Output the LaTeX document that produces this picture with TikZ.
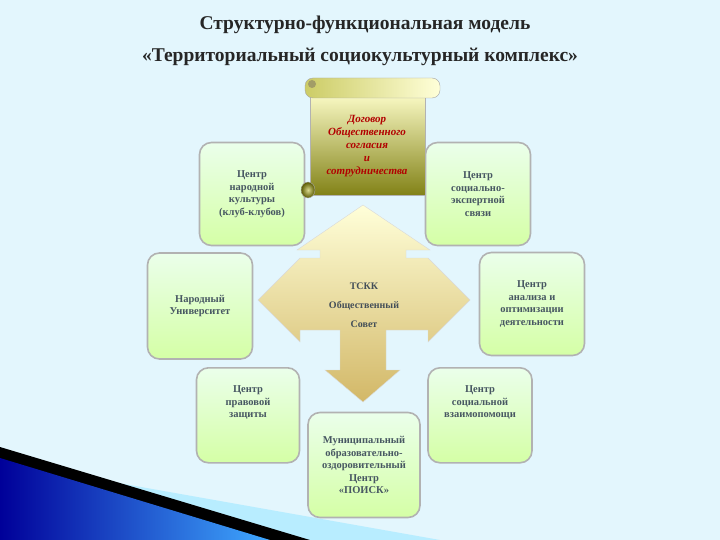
\documentclass[tikz,border=0pt]{standalone}
\usepackage{fontspec}
\setmainfont{Liberation Serif}
\begin{document}
\begin{tikzpicture}[x=1pt,y=-1pt,
 box/.style={draw=black!30,line width=1.6pt,rounded corners=12pt,top color=green!8!white,bottom color=green!30!lime!35!white,align=center,font=\bfseries\fontsize{10.5}{12.5}\selectfont,text=cyan!30!black,inner sep=2pt},
 ttl/.style={font=\bfseries\fontsize{19.5}{22}\selectfont,text=black!85}]
\useasboundingbox (0,0) rectangle (720,540);
\fill[cyan!11!white] (0,0) rectangle (720,540);
% corner decoration
\fill[blue!25!cyan!28!white] (0,462) -- (440,540) -- (0,540) -- cycle;
\fill[black] (0,447) -- (310,540) -- (0,540) -- cycle;
\shade[left color=blue!60!black,right color=blue!45!cyan!75!white] (0,458) -- (270,540) -- (0,540) -- cycle;
% title
\node[ttl] (t1) at (365,25) {Структурно-функциональная модель};
\node[ttl] (t2) at (360,57) {«Территориальный социокультурный комплекс»};
% boxes
\node[box,minimum width=105pt,minimum height=103pt] (b1) at (252,194) {Центр\\народной\\культуры\\(клуб-клубов)};
\node[box,minimum width=105pt,minimum height=103pt] (b2) at (478,194) {Центр\\социально-\\экспертной\\связи};
\node[box,minimum width=105pt,minimum height=106pt] (b3) at (200,306) {Народный\\Университет};
\node[box,minimum width=105pt,minimum height=103pt] (b4) at (532,304) {Центр\\анализа и\\оптимизации\\деятельности};
\node[box,minimum width=103pt,minimum height=95pt,anchor=north] (b5) at (248,367) {Центр\\правовой\\защиты\\[14pt]};
\node[box,minimum width=104pt,minimum height=95pt,anchor=north] (b6) at (480,367) {Центр\\социальной\\взаимопомощи\\[14pt]};
\node[box,minimum width=112pt,minimum height=105pt] (b7) at (364,465) {Муниципальный\\образовательно-\\оздоровительный\\Центр\\«ПОИСК»};
% cross arrow
\shade[top color=yellow!15!white,bottom color=black!25!yellow!40!brown!70!white,draw=black!15]
 (363,205) -- (430,250) -- (406,250) -- (406,258) -- (428,258) -- (470,300) -- (428,342) -- (428,330) -- (386,330) -- (386,370) -- (400,370) -- (363,402) -- (325,370) -- (340,370) -- (340,330) -- (300,330) -- (300,342) -- (258,300) -- (300,258) -- (320,258) -- (320,250) -- (297,250) -- cycle;
\node[font=\bfseries\fontsize{10}{11}\selectfont,text=cyan!25!black,align=center] (c) at (364,305) {ТСКК\\[8pt]Общественный\\[8pt]Совет};
% scroll
\shade[top color=yellow!20!white,bottom color=olive!60!black!70!white,draw=black!30] (310,90) rectangle (425,195);
\shade[left color=olive!40!white,right color=yellow!15!white,draw=black!35,rounded corners=8pt] (305,78) rectangle (440,98);
\fill[olive!60!black!60!white] (312,84) circle (4);
\shade[inner color=olive!30!white,outer color=olive!70!black,draw=black!30] (308,190) ellipse (7 and 8);
\node[font=\bfseries\itshape\fontsize{11}{13}\selectfont,text=red!70!black,align=center] (s) at (367,146) {Договор\\Общественного\\согласия\\и\\сотрудничества};
\end{tikzpicture}
\end{document}
